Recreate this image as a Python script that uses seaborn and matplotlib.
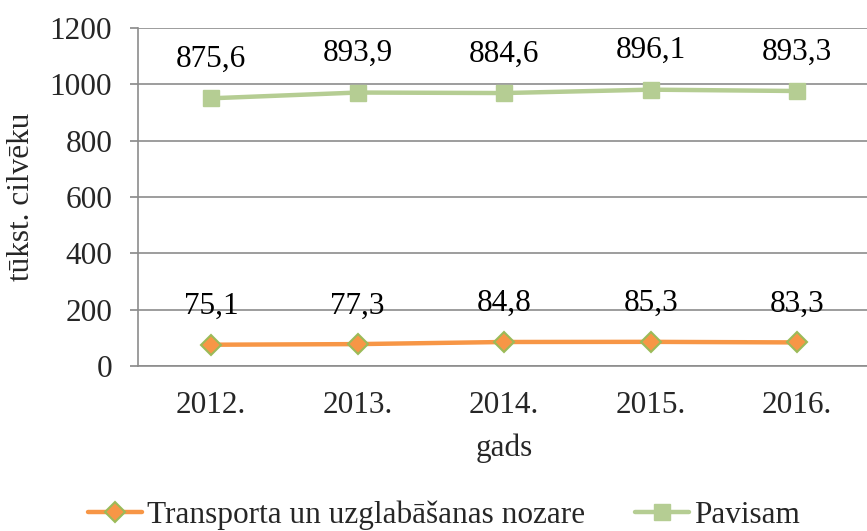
import matplotlib
matplotlib.use("Agg")
import matplotlib.pyplot as plt
import seaborn as sns
import pandas as pd
import numpy as np

years = ["2012.", "2013.", "2014.", "2015.", "2016."]
transport = [75.1, 77.3, 84.8, 85.3, 83.3]
pavisam = [875.6, 893.9, 884.6, 896.1, 893.3]
yticks = [0, 200, 400, 600, 800, 1000, 1200]

sns.set_theme(style="white")
plt.rcParams["font.family"] = ["Liberation Serif", "DejaVu Serif"]

# stacked line chart (as in the original)
stacked = [t + p for t, p in zip(transport, pavisam)]
pos = np.arange(len(years))
df = pd.DataFrame({"pos": pos, "transport": transport, "stacked": stacked})

fig = plt.figure(figsize=(8.67, 5.31), dpi=100)
ax = fig.add_axes([0.159, 0.311, 0.845, 0.636])

orange = "#F79646"
green = "#B5CD93"
edge_green = "#9BBB59"

sns.lineplot(data=df, x="pos", y="transport", ax=ax, color=orange, lw=3.2,
             marker="D", markersize=10, markerfacecolor=orange,
             markeredgecolor=edge_green, markeredgewidth=1.5,
             label="Transporta un uzglabāšanas nozare", legend=False, zorder=4)
sns.lineplot(data=df, x="pos", y="stacked", ax=ax, color=green, lw=3.2,
             marker="s", markersize=12, markerfacecolor=green,
             markeredgecolor=green, markeredgewidth=1,
             label="Pavisam", legend=False, zorder=4)

fs = 22.5
for x, t, s, p in zip(pos, transport, stacked, pavisam):
    ax.text(x, t + 136, f"{t:.1f}".replace(".", ","), ha="center", va="center",
            fontsize=fs, color="black", zorder=5)
    ax.text(x, s + 138, f"{p:.1f}".replace(".", ","), ha="center", va="center",
            fontsize=fs, color="black", zorder=5)

ax.set_xlim(-0.5, len(years) - 0.5)
ax.set_ylim(0, 1200)
ax.set_yticks(yticks)
ax.set_yticklabels([str(v) for v in yticks], fontsize=fs)
ax.set_xticks(pos)
ax.set_xticklabels(years, fontsize=fs)
ax.set_xticks(np.arange(0.5, len(years) - 0.5, 1), minor=True)
ax.tick_params(axis="x", which="major", length=0, pad=18)
ax.tick_params(axis="x", which="minor", length=5.5, width=1.2, color="#888888", direction="out")
ax.tick_params(axis="y", which="major", length=5.5, width=1.2, color="#888888", direction="out", pad=13, left=True)
ax.grid(axis="y", color="#8c8c8c", lw=1.2)
ax.set_axisbelow(True)
for side in ["top", "right"]:
    ax.spines[side].set_visible(False)
for side in ["left", "bottom"]:
    ax.spines[side].set_color("#8c8c8c")
    ax.spines[side].set_linewidth(1.2)

ax.set_xlabel("gads", fontsize=fs, labelpad=10)
ax.set_ylabel("tūkst. cilvēku", fontsize=fs, labelpad=10)

handles, labels = ax.get_legend_handles_labels()
fig.legend(handles, labels, loc="center", bbox_to_anchor=(0.512, 0.03), ncol=2,
           frameon=False, fontsize=fs, handlelength=1.73, handletextpad=0.15,
           columnspacing=1.6)

fig.savefig("out.png", dpi=100)
